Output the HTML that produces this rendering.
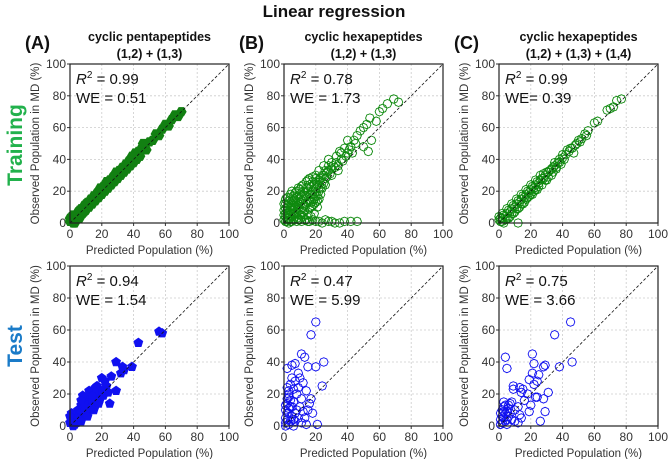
<!DOCTYPE html>
<html><head><meta charset="utf-8">
<style>
html,body{margin:0;padding:0;background:#fff;}
svg{display:block;font-family:"Liberation Sans",sans-serif;}
</style></head>
<body>
<svg id="chart" width="668" height="459" viewBox="0 0 668 459" xmlns="http://www.w3.org/2000/svg"></svg>
<script>
// ---- data ----
const ticks = [0,20,40,60,80,100];
const tickLabels = ["0","20","40","60","80","100"];
const panelTitles1 = ["cyclic pentapeptides","cyclic hexapeptides","cyclic hexapeptides"];
const panelTitles2 = ["(1,2) + (1,3)","(1,2) + (1,3)","(1,2) + (1,3) + (1,4)"];
const panelLetters = ["(A)","(B)","(C)"];
const r2Train = ["0.99","0.78","0.99"];
const weTrain = ["WE = 0.51","WE = 1.73","WE= 0.39"];
const r2Test = ["0.94","0.47","0.75"];
const weTest = ["WE = 1.54","WE = 5.99","WE = 3.66"];

const aTrain = [[1,2],[2,0],[3,4],[4,2],[5,7],[6,3],[7,9],[8,6],[9,11],[10,8],[11,13],[12,10],[13,15],[14,12],[15,17],[16,14],[17,19],[18,16],[19,22],[20,18],[21,23],[22,20],[23,26],[24,22],[25,27],[26,24],[27,29],[28,26],[29,32],[30,28],[31,33],[32,30],[33,35],[34,32],[35,37],[36,34],[37,39],[38,36],[39,42],[40,38],[41,44],[42,40],[43,45],[44,42],[45,47],[47,49],[48,46],[50,51],[52,52],[54,56],[56,55],[58,59],[60,62],[62,61],[64,65],[66,68],[68,67],[70,70],[0,1],[1,4],[3,0],[5,3],[10,12],[20,21],[30,31],[40,41],[15,15],[25,25],[35,35],[46,50],[0,3],[2,5],[6,8],[9,7]];
const aTest = [[56,59],[58,58],[43,52],[29,40],[39,37],[33,37],[32,33],[34,35],[29,22],[25,14],[20,30],[22,28],[17,25],[15,22],[18,20],[12,18],[10,15],[8,19],[7,13],[5,10],[3,7],[2,5],[1,3],[4,2],[6,4],[9,7],[11,10],[13,12],[14,16],[16,13],[19,17],[21,19],[23,25],[24,21],[26,31],[12,22],[10,9],[8,11],[6,8],[3,1],[0,2],[1,8],[2,0],[5,5],[7,3],[15,10],[18,14],[20,22],[14,19],[16,24],[9,14],[11,6],[4,5],[2,2],[0,6],[7,16]];
const bTrain = [[69,78],[72,76],[65,75],[62,72],[60,70],[58,64],[54,66],[50,60],[52,62],[48,58],[46,55],[50,48],[55,52],[53,45],[45,50],[42,48],[40,52],[38,47],[40,44],[36,40],[35,45],[33,42],[30,38],[32,35],[28,36],[28,40],[25,36],[27,32],[24,30],[22,33],[20,30],[22,27],[18,26],[20,22],[16,24],[15,20],[17,18],[14,22],[12,20],[13,17],[10,18],[11,14],[8,16],[9,12],[6,14],[7,10],[5,11],[4,8],[3,12],[2,6],[1,9],[2,3],[1,1],[3,0],[5,4],[6,2],[8,6],[10,8],[12,10],[14,12],[16,14],[18,15],[20,17],[22,20],[24,22],[26,28],[30,30],[34,36],[12,4],[14,2],[16,1],[18,2],[20,1],[24,0],[28,1],[32,0],[38,1],[46,1],[10,2],[8,1],[25,25],[19,24],[23,28],[26,33],[15,27],[11,23],[4,16],[7,19],[9,22],[3,3],[0,5],[0,12],[1,15],[5,20],[13,8],[15,5],[17,10],[19,12],[21,14],[11,5],[7,7],[4,1],
[1,4],[2,8],[3,6],[4,10],[5,14],[6,9],[7,13],[8,11],[9,15],[10,13],[11,17],[12,15],[13,19],[14,17],[15,22],[16,18],[17,23],[18,20],[19,18],[20,26],[21,24],[22,24],[23,22],[24,26],[25,30],[26,24],[27,29],[28,33],[29,31],[30,34],[31,36],[33,38],[34,33],[36,44],[37,39],[39,42],[41,46],[43,44],[44,52],[2,10],[3,14],[4,18],[6,17],[8,20],[10,21],[12,24],[14,26],[16,28],[18,29],[20,28],[0,8],[1,12],[2,16],[3,2],[5,8],[6,6],[7,4],[9,9],[10,5],[12,7],[13,11],[15,13],[16,9],[17,13],[18,11],[19,15],[20,13],[21,17],[22,15],[23,18],[0,2],[1,6],[2,1],[4,5],[5,1],[6,11],[8,3],[9,2],[11,1],[13,2],[15,1],[17,4],[19,6],[21,10],[22,1],[26,2],[30,1],[35,0],[42,1]];
const bTest = [[20,65],[17,57],[11,45],[13,43],[7,39],[15,37],[5,38],[20,37],[25,40],[2,36],[9,33],[10,30],[7,28],[4,26],[6,23],[12,27],[24,25],[14,22],[3,20],[8,20],[11,17],[17,17],[6,15],[2,14],[4,12],[1,10],[3,8],[5,6],[2,4],[1,2],[7,3],[9,5],[12,9],[15,10],[10,12],[4,16],[3,18],[8,10],[13,5],[21,1],[1,0],[6,0],[11,2],[14,1],[2,24],[5,30],[9,24],[16,14],[18,8],[3,1],[5,12],[1,5],[2,8],[3,11],[4,3],[1,13],[2,17],[3,22],[6,4],[7,8]];
const cTrain = [[77,78],[74,77],[70,72],[72,73],[68,71],[62,64],[60,63],[56,58],[54,56],[52,53],[50,52],[48,49],[46,47],[44,45],[42,43],[40,41],[38,40],[37,38],[35,36],[34,35],[32,33],[31,32],[29,30],[28,28],[26,27],[25,25],[23,24],[22,22],[20,21],[19,19],[17,18],[16,16],[14,15],[13,13],[11,12],[10,10],[8,9],[7,7],[5,6],[4,4],[2,3],[1,1],[0,2],[3,0],[6,3],[9,6],[12,9],[15,12],[18,16],[21,18],[24,21],[27,24],[30,27],[33,30],[36,34],[5,9],[8,12],[11,15],[14,18],[17,21],[20,24],[23,27],[26,30],[12,0],[2,6],[0,4],[39,37],[43,46],[47,44],
[1,3],[2,1],[3,5],[4,2],[5,3],[6,8],[7,4],[8,6],[9,11],[10,7],[11,9],[12,14],[13,10],[14,12],[15,17],[16,13],[17,15],[18,20],[19,17],[20,18],[21,23],[22,20],[23,21],[24,26],[25,23],[27,28],[28,31],[29,27],[30,32],[31,29],[33,34],[34,32],[35,38],[36,35],[38,38],[40,43],[41,40],[45,47],[49,50],[51,51],[55,55]];
const cTest = [[45,65],[35,57],[4,43],[21,45],[5,36],[22,39],[28,37],[29,38],[38,37],[46,40],[19,29],[21,33],[25,32],[24,28],[22,26],[9,25],[9,23],[13,24],[15,23],[14,21],[18,20],[23,18],[24,18],[31,21],[28,17],[20,13],[19,9],[29,9],[26,3],[13,7],[14,5],[12,12],[8,15],[7,14],[4,13],[3,12],[2,10],[5,9],[1,8],[3,5],[6,6],[8,4],[10,3],[2,2],[5,1],[1,1],[12,2],[16,16],[6,11],[10,10],[7,8],[4,3],[3,15],[2,6],[4,8],[6,13],[5,4],[1,4],[3,9]];

const trainData = [aTrain,bTrain,cTrain];
const testData = [aTest,bTest,cTest];

// ---- layout ----
const NS="http://www.w3.org/2000/svg";
const svg=document.getElementById('chart');
const X0=[70,284,499], W=159;
const rows=[{y0:64,h:159},{y0:266,h:160}];
function mk(tag,attrs,parent){const e=document.createElementNS(NS,tag);for(const k in attrs)e.setAttribute(k,attrs[k]);(parent||svg).appendChild(e);return e;}
function txt(s,attrs,parent){const e=mk('text',attrs,parent);e.textContent=s;return e;}
function hexPts(cx,cy,r,n,rot){let p=[];for(let i=0;i<n;i++){const a=rot+i*2*Math.PI/n;p.push((cx+r*Math.cos(a)).toFixed(1)+','+(cy+r*Math.sin(a)).toFixed(1));}return p.join(' ');}

let t=txt("Linear regression",{x:334,y:17,'text-anchor':'middle','font-size':17,'font-weight':'bold',fill:'#111'});



t=txt("Training",{x:0,y:0,transform:'translate(22,145) rotate(-90)','text-anchor':'middle','font-size':21,'font-weight':'bold',fill:'#22b14c'});


t=txt("Test",{x:0,y:0,transform:'translate(22,346) rotate(-90)','text-anchor':'middle','font-size':21,'font-weight':'bold',fill:'#1a7bc8'});



for(let c=0;c<3;c++){
  const x0=X0[c];
  t=txt(panelLetters[c],{x:x0-45,y:49,'font-size':18,'font-weight':'bold',fill:'#111'});
  
  
  t=txt(panelTitles1[c],{x:x0+W/2,y:41,'text-anchor':'middle','font-size':12.5,'font-weight':'bold',fill:'#111'});
  
  
  t=txt(panelTitles2[c],{x:x0+W/2,y:58,'text-anchor':'middle','font-size':12.5,'font-weight':'bold',fill:'#111'});
  
  
  for(let r=0;r<2;r++){
    const y0=rows[r].y0,H=rows[r].h;
    const sx=v=>x0+v/100*W, sy=v=>y0+H-v/100*H;
    const g=mk('g',{});
    
    
    mk('rect',{x:x0,y:y0,width:W,height:H,fill:'#fff'},g);
    ticks.forEach((v,i)=>{
      if(v>0&&v<100){
        mk('line',{x1:sx(v),x2:sx(v),y1:y0,y2:y0+H,stroke:'#ccc','stroke-width':0.8,'stroke-dasharray':'2,2'},g);
        mk('line',{x1:x0,x2:x0+W,y1:sy(v),y2:sy(v),stroke:'#ccc','stroke-width':0.8,'stroke-dasharray':'2,2'},g);
      }
      mk('line',{x1:sx(v),x2:sx(v),y1:y0+H,y2:y0+H+3,stroke:'#333'},g);
      mk('line',{x1:x0-3,x2:x0,y1:sy(v),y2:sy(v),stroke:'#333'},g);
      let tl=txt(tickLabels[i],{x:sx(v),y:y0+H+15,'text-anchor':'middle','font-size':12,fill:'#333'},g);
      
      
      tl=txt(tickLabels[i],{x:x0-4,y:sy(v)+4,'text-anchor':'end','font-size':12,fill:'#333'},g);
      
      
    });
    const pts=r==0?trainData[c]:testData[c];
    const color=r==0?'#0f8a0f':'#1010f0';
    const filled=(c==0);
    pts.forEach(p=>{
      let m;
      if(filled){
        m=mk('polygon',{points:hexPts(sx(p[0]),sy(p[1]),r==0?5:4.8,r==0?6:5,r==0?0:-Math.PI/2),fill:r==0?'#128012':'#1010f0',stroke:r==0?'#128012':'#1010f0','stroke-width':0.6},g);
      } else {
        m=mk('polygon',{points:hexPts(sx(p[0]),sy(p[1]),4.3,8,0),fill:'none',stroke:color,'stroke-width':0.9},g);
      }
      
      
    });
    const d=mk('line',{x1:sx(0),y1:sy(0),x2:sx(100),y2:sy(100),stroke:'#111','stroke-width':0.8,'stroke-dasharray':'3,2'},g);
    
    
    mk('rect',{x:x0,y:y0,width:W,height:H,fill:'none',stroke:'#222','stroke-width':1.2},g);
    const r2=r==0?r2Train[c]:r2Test[c], we=r==0?weTrain[c]:weTest[c];
    const a1=mk('text',{x:x0+6,y:y0+20,'font-size':15,fill:'#111'},g);
    
    
    const ti=mk('tspan',{'font-style':'italic'},a1);ti.textContent='R';
    const sp=mk('tspan',{'font-size':10,dy:-6},a1);sp.textContent='2';
    const rest=mk('tspan',{dy:6},a1);rest.textContent=' = '+r2;
    const a2=txt(we,{x:x0+6,y:y0+39,'font-size':15,fill:'#111'},g);
    
    
    let xl=txt("Predicted Population (%)",{x:x0+W/2,y:y0+H+31,'text-anchor':'middle','font-size':11.5,fill:'#333'},g);
    
    
    let yl=txt("Observed Population in MD (%)",{x:0,y:0,transform:'translate('+(x0-31)+','+(y0+H/2)+') rotate(-90)','text-anchor':'middle','font-size':11.5,fill:'#333'},g);
    
    
  }
}
</script>
</body></html>
